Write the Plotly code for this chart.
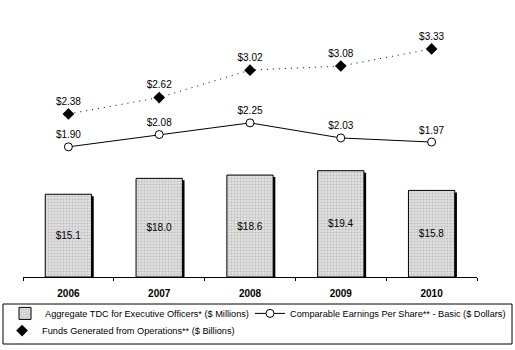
import plotly.graph_objects as go

years = ["2006", "2007", "2008", "2009", "2010"]
tdc = [15.1, 18.0, 18.6, 19.4, 15.8]
eps = [1.90, 2.08, 2.25, 2.03, 1.97]
ffo = [2.38, 2.62, 3.02, 3.08, 3.33]

FONT = "Liberation Sans, Arial, sans-serif"
BAR_W = 0.51

fig = go.Figure()
# drop shadow of the bars
fig.add_trace(go.Bar(
    x=years, y=[v - 0.36 for v in tdc], width=BAR_W, offset=-BAR_W / 2 + 0.024,
    marker=dict(color="black", line=dict(width=0)), showlegend=False,
    hoverinfo="skip", yaxis="y",
))
fig.add_trace(go.Bar(
    x=years, y=tdc, name="Aggregate TDC for Executive Officers* ($ Millions)",
    width=BAR_W, offset=-BAR_W / 2,
    marker=dict(color="#d4d4d4", line=dict(color="black", width=1),
                pattern=dict(shape=".", fgcolor="#9a9a9a", bgcolor="#e2e2e2", size=3, solidity=0.4)),
    text=[f"${v:.1f}" for v in tdc], textposition="inside", insidetextanchor="middle",
    textfont=dict(color="black", size=10, family=FONT), yaxis="y", legend="legend",
))
fig.add_trace(go.Scatter(
    x=years, y=eps, name="Comparable Earnings Per Share** - Basic ($ Dollars)",
    mode="lines+markers+text", line=dict(color="black", width=1),
    marker=dict(symbol="circle", size=8, color="white", line=dict(color="black", width=1)),
    text=[f"${v:.2f}" for v in eps], textposition="top center",
    textfont=dict(color="black", size=10, family=FONT), yaxis="y2", cliponaxis=False,
    legend="legend2",
))
# FFO connecting dotted line (legend shows only the marker)
fig.add_trace(go.Scatter(
    x=years, y=ffo, mode="lines", line=dict(color="black", width=1, dash="1px,5px"),
    showlegend=False, hoverinfo="skip", yaxis="y2",
))
fig.add_trace(go.Scatter(
    x=years, y=ffo, name="Funds Generated from Operations** ($ Billions)",
    mode="markers+text",
    marker=dict(symbol="diamond", size=9, color="black"),
    text=[f"${v:.2f}" for v in ffo], textposition="top center",
    textfont=dict(color="black", size=10, family=FONT), yaxis="y2", cliponaxis=False,
    legend="legend3",
))

leg_common = dict(xref="container", yref="container", xanchor="left", yanchor="top",
                  orientation="h", borderwidth=0, bgcolor="rgba(0,0,0,0)", itemwidth=30,
                  font=dict(size=9.2, family=FONT, color="black"))

fig.update_layout(
    width=515, height=350,
    margin=dict(l=23, r=38, t=3, b=73, autoexpand=False),
    paper_bgcolor="white", plot_bgcolor="white",
    font=dict(family=FONT, size=10, color="black"),
    barmode="overlay",
    showlegend=True,
    legend=dict(x=5 / 515, y=0.146, **leg_common),
    legend2=dict(x=250 / 515, y=0.146, **leg_common),
    legend3=dict(x=0.004, y=0.097, **leg_common),
    shapes=[dict(type="rect", xref="paper", yref="paper",
                 x0=(3 - 23) / 454, x1=(512 - 23) / 454,
                 y0=(277 - 344) / 274, y1=(277 - 304) / 274,
                 line=dict(color="black", width=1), fillcolor="rgba(0,0,0,0)", layer="below")],
    xaxis=dict(showline=True, linecolor="black", linewidth=1, ticks="outside",
               tickson="boundaries", ticklen=3, tickcolor="black", ticklabelstandoff=7,
               tickfont=dict(family=FONT, size=10, color="black", weight="bold"),
               showgrid=False, zeroline=False, automargin=False),
    yaxis=dict(range=[0, 50], visible=False, showgrid=False, zeroline=False),
    yaxis2=dict(range=[0, 4], overlaying="y", visible=False, showgrid=False, zeroline=False),
)

fig.write_html("out.html")
